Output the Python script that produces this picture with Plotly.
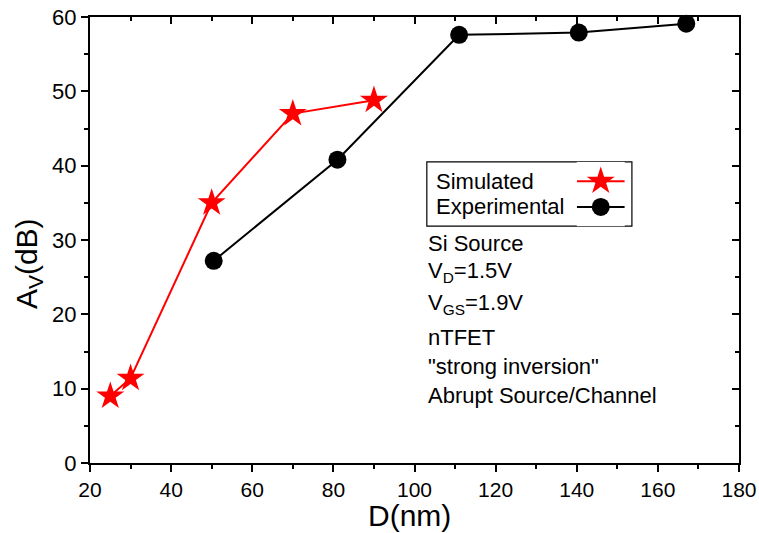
import plotly.graph_objects as go

# Data
sim_x = [25, 30, 50, 70, 90]
sim_y = [9.0, 11.4, 35.0, 47.0, 48.8]
exp_x = [50.5, 81, 111, 140.5, 167]
exp_y = [27.2, 40.8, 57.6, 57.9, 59.1]

x_range = [20, 180]
y_range = [0, 60]

FONT = "Liberation Sans, Arial, sans-serif"
RED = "#ff0000"
BLACK = "#000000"

fig = go.Figure()

fig.add_trace(go.Scatter(
    x=sim_x, y=sim_y, mode="lines+markers", name="Simulated",
    line=dict(color=RED, width=2),
    marker=dict(symbol="star", size=21, color=RED, opacity=1, line=dict(width=0)),
    showlegend=False, cliponaxis=False))
fig.add_trace(go.Scatter(
    x=exp_x, y=exp_y, mode="lines+markers", name="Experimental",
    line=dict(color=BLACK, width=2),
    marker=dict(symbol="circle", size=18, color=BLACK, opacity=1, line=dict(width=0)),
    showlegend=False, cliponaxis=False))

# Mirror axes (top/right) with inward ticks
fig.add_trace(go.Scatter(x=[], y=[], xaxis="x2", yaxis="y2", showlegend=False))

# Custom legend samples (symbol to the right of the label)
leg_rows = [0.70, 0.30]
fig.add_trace(go.Scatter(
    x=[0, 0.5, 1], y=[leg_rows[0]] * 3, mode="lines+markers",
    line=dict(color=RED, width=2),
    marker=dict(symbol="star", size=[0, 21, 0], color=RED, opacity=1, line=dict(width=0)),
    xaxis="x3", yaxis="y3", showlegend=False, hoverinfo="skip", cliponaxis=False))
fig.add_trace(go.Scatter(
    x=[0, 0.5, 1], y=[leg_rows[1]] * 3, mode="lines+markers",
    line=dict(color=BLACK, width=2),
    marker=dict(symbol="circle", size=[0, 18, 0], color=BLACK, opacity=1, line=dict(width=0)),
    xaxis="x3", yaxis="y3", showlegend=False, hoverinfo="skip", cliponaxis=False))

axis_common = dict(showline=True, linecolor=BLACK, linewidth=2, showgrid=False,
                   zeroline=False, tickcolor=BLACK, tickwidth=2, automargin=False)

fig.update_layout(
    width=759, height=533,
    margin=dict(l=90, r=20, t=17, b=70),
    paper_bgcolor="white", plot_bgcolor="white",
    font=dict(family=FONT, color=BLACK),
    xaxis=dict(range=x_range, dtick=20, tick0=20, ticks="outside", ticklen=7,
               minor=dict(ticks="outside", ticklen=4, dtick=10, tickcolor=BLACK, tickwidth=2),
               tickfont=dict(size=21, family=FONT), **axis_common),
    yaxis=dict(range=y_range, dtick=10, tick0=0, ticks="outside", ticklen=7,
               minor=dict(ticks="outside", ticklen=4, dtick=5, tickcolor=BLACK, tickwidth=2),
               tickfont=dict(size=22, family=FONT), **axis_common),
    xaxis2=dict(range=x_range, overlaying="x", side="top", anchor="y", dtick=20, tick0=20,
                ticks="inside", ticklen=7, showticklabels=False,
                minor=dict(ticks="inside", ticklen=4, dtick=10, tickcolor=BLACK, tickwidth=2),
                **axis_common),
    yaxis2=dict(range=y_range, overlaying="y", side="right", anchor="x", dtick=10, tick0=0,
                ticks="inside", ticklen=7, showticklabels=False,
                minor=dict(ticks="inside", ticklen=4, dtick=5, tickcolor=BLACK, tickwidth=2),
                **axis_common),
    xaxis3=dict(domain=[0.750, 0.824], range=[0, 1], visible=False, anchor="y3"),
    yaxis3=dict(domain=[0.531, 0.675], range=[0, 1], visible=False, anchor="x3"),
    showlegend=False,
)

# Legend box
fig.add_shape(type="rect", xref="paper", yref="paper", x0=0.519, x1=0.835, y0=0.531, y1=0.675,
              line=dict(color=BLACK, width=1.2), fillcolor="rgba(0,0,0,0)", layer="below")

ann_font = dict(family=FONT, size=22, color=BLACK)
legend_labels = ["Simulated", "Experimental"]
legend_y = [0.632, 0.574]
for t, yy in zip(legend_labels, legend_y):
    fig.add_annotation(text=t, xref="paper", yref="paper", x=(434 - 90) / 649, y=yy,
                       xanchor="left", yanchor="middle", showarrow=False, font=ann_font)

info_lines = ["Si Source", "V<sub>D</sub>=1.5V", "V<sub>GS</sub>=1.9V", "nTFET",
              "\"strong inversion\"", "Abrupt Source/Channel"]
info_px = [243, 272, 304, 337, 366, 395]
for t, py in zip(info_lines, info_px):
    fig.add_annotation(text=t, xref="paper", yref="paper", x=(426 - 90) / 649,
                       y=(463 - py) / 446, xanchor="left", yanchor="middle",
                       showarrow=False, font=ann_font)

# Axis titles
fig.add_annotation(text="D(nm)", xref="paper", yref="paper", x=0.493, y=-0.118,
                   xanchor="center", yanchor="middle", showarrow=False,
                   font=dict(family=FONT, size=30, color=BLACK))
fig.add_annotation(text="A<sub>V</sub>(dB)", xref="paper", yref="paper", x=-0.0955, y=0.446,
                   xanchor="center", yanchor="middle", showarrow=False, textangle=-90,
                   font=dict(family=FONT, size=30, color=BLACK))

fig.write_html("out.html")
